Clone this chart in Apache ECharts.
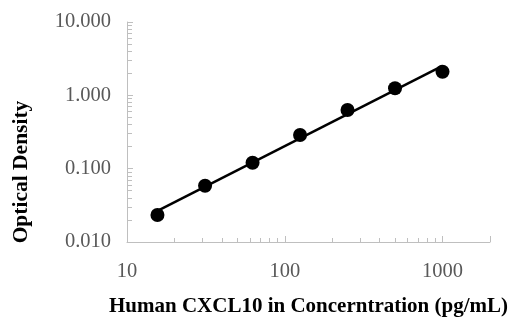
<!DOCTYPE html>
<html style="height: 100%">
<head>
  <meta charset="utf-8">
</head>
<body style="height: 100%; margin: 0; background: #fff">
  <div id="container" style="width: 512px; height: 317px"></div>

  <script type="text/javascript" src="https://cdn.jsdelivr.net/npm/echarts@6/dist/echarts.min.js"></script>
  <script type="text/javascript">
    // standard concentrations (pg/mL) and measured OD
    var concentrations = [15.6, 31.25, 62.5, 125, 250, 500, 1000];
    var opticalDensity = [0.0233, 0.0586, 0.1205, 0.288, 0.631, 1.247, 2.10];
    // trendline ends
    var trendX = [15.6, 1000];
    var trendY = [0.0265, 2.52];

    var serif = '"Liberation Serif", "Times New Roman", serif';

    var dom = document.getElementById('container');
    var myChart = echarts.init(dom, null, { renderer: 'canvas' });

    var points = concentrations.map(function (c, i) { return [c, opticalDensity[i]]; });
    var trend = trendX.map(function (c, i) { return [c, trendY[i]]; });

    var option = {
      backgroundColor: '#fff',
      animation: false,
      grid: { left: 127, right: 22, top: 22, bottom: 75, containLabel: false, outerBoundsMode: 'none' },
      xAxis: {
        type: 'log',
        logBase: 10,
        min: 10,
        max: 2000,
        name: 'Human CXCL10 in Concerntration (pg/mL)',
        nameLocation: 'middle',
        nameGap: 54,
        nameTextStyle: { fontFamily: serif, fontWeight: 'bold', fontSize: 21, color: '#000' },
        axisLine: { lineStyle: { color: '#bfbfbf', width: 1 } },
        axisTick: { show: true, inside: true, length: 6, lineStyle: { color: '#bfbfbf' } },
        minorTick: { show: true, splitNumber: 9, length: 4, lineStyle: { color: '#bfbfbf' } },
        splitLine: { show: false },
        axisLabel: {
          margin: 19,
          fontFamily: serif,
          fontSize: 20.5,
          color: '#595959',
          showMaxLabel: false,
          formatter: function (v) { return String(Math.round(v)); }
        }
      },
      yAxis: {
        type: 'log',
        logBase: 10,
        min: 0.01,
        max: 10,
        axisLine: { show: true, lineStyle: { color: '#bfbfbf', width: 1 } },
        axisTick: { show: true, inside: true, length: 6, lineStyle: { color: '#bfbfbf' } },
        minorTick: { show: true, splitNumber: 9, length: 5, lineStyle: { color: '#bfbfbf' } },
        splitLine: { show: false },
        axisLabel: {
          margin: 16,
          fontFamily: serif,
          fontSize: 20.5,
          color: '#595959',
          formatter: function (v) { return v.toFixed(3); }
        }
      },
      graphic: [{
        type: 'text',
        x: 21,
        y: 172,
        rotation: Math.PI / 2,
        style: {
          text: 'Optical Density',
          font: 'bold 21.5px ' + serif,
          fill: '#000',
          align: 'center',
          verticalAlign: 'middle'
        }
      }],
      series: [
        {
          type: 'line',
          data: trend,
          showSymbol: false,
          lineStyle: { color: '#000', width: 2.5 },
          z: 2
        },
        {
          type: 'scatter',
          data: points,
          symbol: 'circle',
          symbolSize: 14,
          itemStyle: { color: '#000', opacity: 1 },
          z: 3
        }
      ]
    };

    myChart.setOption(option);
    window.addEventListener('resize', myChart.resize);
  </script>
</body>
</html>
